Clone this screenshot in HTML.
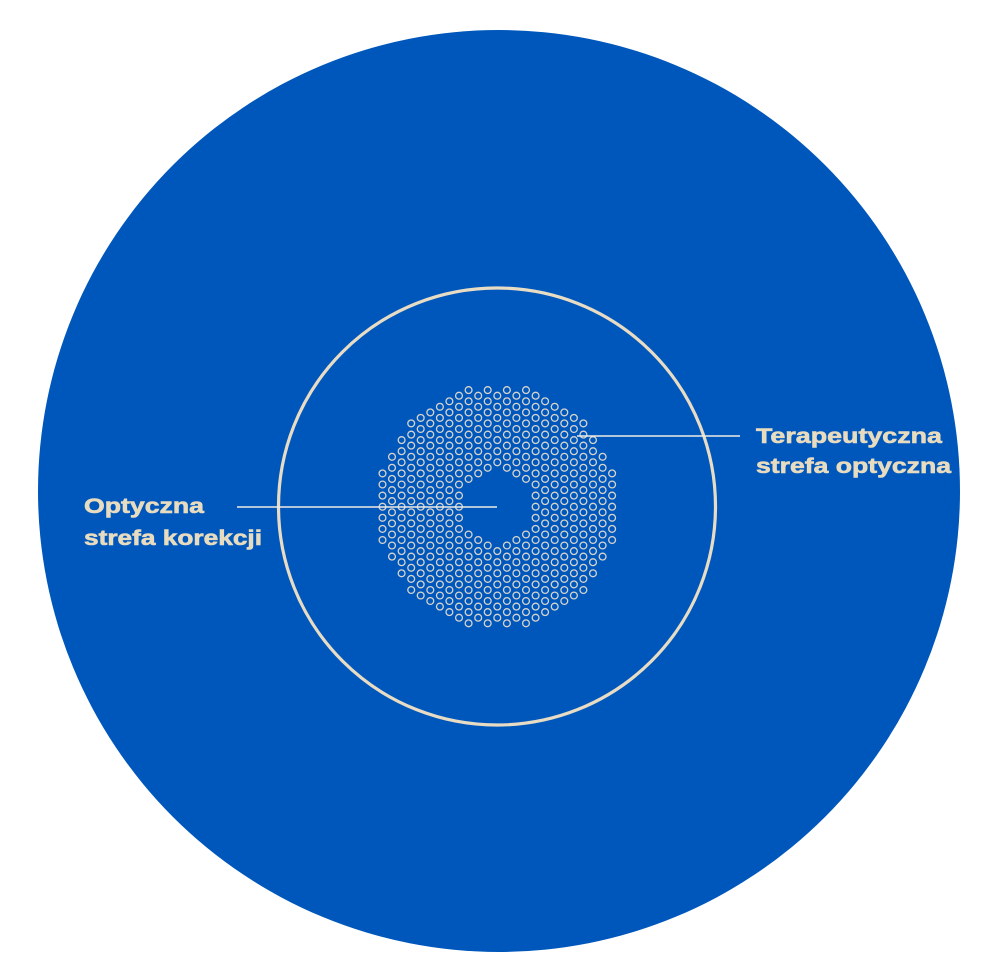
<!DOCTYPE html>
<html><head><meta charset="utf-8"><style>
html,body{margin:0;padding:0;background:#fff;width:997px;height:959px;overflow:hidden}
svg{display:block}
text{font-family:"Liberation Sans",sans-serif;font-weight:bold;font-size:21px;fill:#e8dcc0;stroke:#e8dcc0;stroke-width:0.6}
</style></head><body>
<svg id="s" width="997" height="959" viewBox="0 0 997 959">
<circle cx="499" cy="491" r="461" fill="#0057bb"/>
<circle cx="497" cy="506.5" r="218.5" fill="none" stroke="#e8dcc4" stroke-width="3.2"/>
<g id="dots" fill="none" stroke="#d8d4cc" stroke-width="1.3"></g>
<line x1="577" y1="436" x2="740" y2="436" stroke="#f0ece4" stroke-width="1.5"/>
<line x1="237" y1="507" x2="497" y2="507" stroke="#f0ece4" stroke-width="1.5"/>
<text x="756" y="443" textLength="186" lengthAdjust="spacingAndGlyphs">Terapeutyczna</text>
<text x="756" y="473" textLength="195" lengthAdjust="spacingAndGlyphs">strefa optyczna</text>
<text x="84" y="513" textLength="120" lengthAdjust="spacingAndGlyphs">Optyczna</text>
<text x="84" y="545" textLength="178" lengthAdjust="spacingAndGlyphs">strefa korekcji</text>
</svg>
<script>
var g=document.getElementById('dots'),cx=497.3,cy=506.7,dx=9.57,dy=11.1,h='';
for(var k=-13;k<=13;k++){var off=(Math.abs(k)%2)?0.5:0;
for(var j=-12;j<=12;j++){var x=cx+k*dx,y=cy+(j+off)*dy;var d=Math.hypot(x-cx,y-cy);
if(d<=120.5&&d>=36){h+='<circle cx="'+x.toFixed(1)+'" cy="'+y.toFixed(1)+'" r="3.4"/>';}}}
g.innerHTML=h;
</script>
</body></html>
